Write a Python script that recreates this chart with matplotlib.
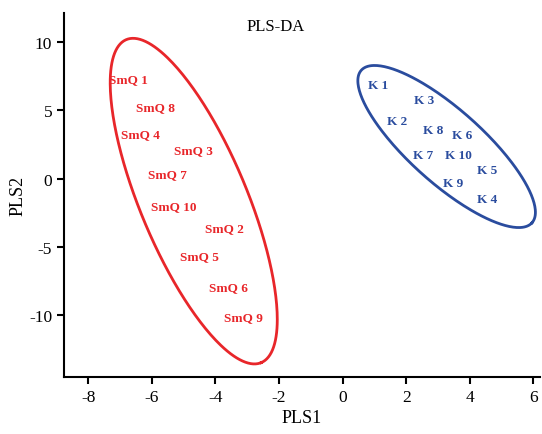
import numpy as np
import matplotlib.pyplot as plt

# Sample scores (PLS1, PLS2)
smq_labels = ['SmQ 1', 'SmQ 8', 'SmQ 4', 'SmQ 3', 'SmQ 7', 'SmQ 10', 'SmQ 2', 'SmQ 5', 'SmQ 6', 'SmQ 9']
smq_x = [-6.74, -5.89, -6.34, -4.70, -5.52, -5.31, -3.72, -4.49, -3.60, -3.12]
smq_y = [7.23, 5.23, 3.28, 2.07, 0.32, -2.02, -3.65, -5.67, -7.96, -10.1]

k_labels = ['K 1', 'K 3', 'K 2', 'K 8', 'K 6', 'K 7', 'K 10', 'K 5', 'K 9', 'K 4']
k_x = [1.12, 2.57, 1.72, 2.84, 3.77, 2.52, 3.63, 4.53, 3.47, 4.53]
k_y = [6.86, 5.72, 4.21, 3.53, 3.16, 1.75, 1.70, 0.61, -0.31, -1.51]

# Group ellipses: center, semi-major vector, semi-minor vector (data units)
smq_center = (-4.68, -1.65)
smq_major = (2.12, -11.8)
smq_minor = (1.55, 1.50)
k_center = (3.27, 2.34)
k_major = (2.68, -5.58)
k_minor = (0.78, 1.98)

red = '#e8262a'
blue = '#2a4c9e'

plt.rcParams['font.family'] = ['Liberation Serif', 'DejaVu Serif']
plt.rcParams['axes.unicode_minus'] = False

fig = plt.figure(figsize=(5.42, 4.35), dpi=100)
ax = fig.add_axes([0.118, 0.131, 0.878, 0.837])

t = np.linspace(0, 2 * np.pi, 300)
for c, a, b, col in [(smq_center, smq_major, smq_minor, red), (k_center, k_major, k_minor, blue)]:
    ex = c[0] + a[0] * np.cos(t) + b[0] * np.sin(t)
    ey = c[1] + a[1] * np.cos(t) + b[1] * np.sin(t)
    ax.plot(ex, ey, color=col, lw=2.0)

for lab, x, y in zip(smq_labels, smq_x, smq_y):
    ax.text(x, y, lab, color=red, fontsize=9.5, fontweight='bold', ha='center', va='center')
for lab, x, y in zip(k_labels, k_x, k_y):
    ax.text(x, y, lab, color=blue, fontsize=9.5, fontweight='bold', ha='center', va='center')

ax.text(0.445, 0.985, 'PLS-DA', transform=ax.transAxes, fontsize=12, ha='center', va='top')

ax.set_xlim(-8.76, 6.2)
ax.set_ylim(-14.5, 12.1)
ax.set_xticks([-8, -6, -4, -2, 0, 2, 4, 6])
ax.set_yticks([-10, -5, 0, 5, 10])
ax.spines['top'].set_visible(False)
ax.spines['right'].set_visible(False)
ax.spines['left'].set_linewidth(1.5)
ax.spines['bottom'].set_linewidth(1.5)
ax.tick_params(width=1.5, length=5, labelsize=12.5)
ax.set_xlabel('PLS1', fontsize=13, labelpad=3)
ax.set_ylabel('PLS2', fontsize=13, labelpad=2)

plt.savefig('out.png', dpi=100)
